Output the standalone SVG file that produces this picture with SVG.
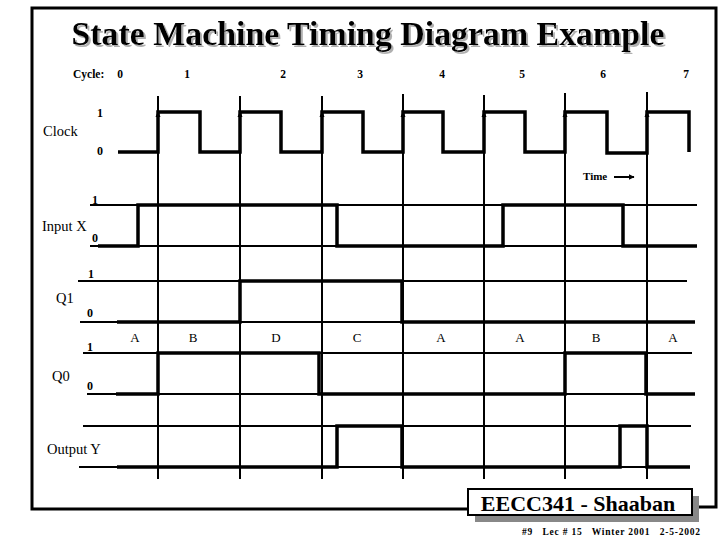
<svg xmlns="http://www.w3.org/2000/svg" width="720" height="540" viewBox="0 0 720 540">
<style>
.t{font-family:"Liberation Serif","Times New Roman",serif;fill:#000}
.b{font-weight:bold}
.lv{font-family:"Liberation Serif","Times New Roman",serif;font-weight:bold;font-size:12px;text-anchor:middle}
.nm{font-family:"Liberation Serif","Times New Roman",serif;font-size:14.5px}
.st{font-family:"Liberation Serif","Times New Roman",serif;font-size:13px;text-anchor:middle}
.thin{stroke:#000;stroke-width:2;fill:none}
.thick{stroke:#000;stroke-width:3.5;fill:none;stroke-linejoin:miter}
</style>
<defs>
<marker id="ah" viewBox="0 0 10 10" refX="9" refY="5" markerWidth="6" markerHeight="6" orient="auto" markerUnits="userSpaceOnUse"><path d="M0,0 L10,5 L0,10 z" fill="#000"/></marker>
<path id="up" d="M-2.5,6 L0,0 L2.5,6 z" fill="#000"/>
<filter id="shadow" x="-5%" y="-20%" width="110%" height="150%">
<feOffset in="SourceAlpha" dx="2" dy="2" result="off"/>
<feFlood flood-color="#b0b0b0"/>
<feComposite in2="off" operator="in" result="sh"/>
<feMerge><feMergeNode in="sh"/><feMergeNode in="SourceGraphic"/></feMerge>
</filter>
</defs>
<rect width="720" height="540" fill="#fff"/>
<g id="frame">
<path d="M468,509 H32 V8 H716 V507 H698" fill="none" stroke="#000" stroke-width="3"/>
</g>
<g id="title">
<text x="368" y="45" class="t b" font-size="33" text-anchor="middle" textLength="593" lengthAdjust="spacingAndGlyphs" filter="url(#shadow)">State Machine Timing Diagram Example</text>
</g>
<g id="cycles" class="t b" font-size="11.5">
<text x="73" y="78">Cycle:</text>
<text x="120" y="78" text-anchor="middle">0</text>
<text x="187" y="78" text-anchor="middle">1</text>
<text x="283" y="78" text-anchor="middle">2</text>
<text x="360" y="78" text-anchor="middle">3</text>
<text x="442" y="78" text-anchor="middle">4</text>
<text x="522" y="78" text-anchor="middle">5</text>
<text x="603" y="78" text-anchor="middle">6</text>
<text x="686" y="78" text-anchor="middle">7</text>
</g>
<g id="grid">
<path class="thin" d="M158,96 V479 M240,96 V479 M322,96 V479 M403,94 V479 M484,95 V479 M565,93 V479 M647,92 V479"/>
</g>
<g id="clock">
<text class="nm" x="43" y="136">Clock</text>
<text class="lv" x="100" y="117">1</text>
<text class="lv" x="100" y="155">0</text>
<path class="thick" d="M118,152 H158 V112 H200 V152 H240 V112 H281 V152 H322 V112 H363 V152 H403 V112 H443 V152 H484 V112 H525 V152 H565 V112 H607 V153 H647 V112 H689 V152"/>
<use href="#up" x="158" y="111"/>
<use href="#up" x="240" y="111"/>
<use href="#up" x="322" y="111"/>
<use href="#up" x="403" y="111"/>
<use href="#up" x="484" y="111"/>
<use href="#up" x="565" y="111"/>
<use href="#up" x="647" y="111"/>
</g>
<g id="time">
<text class="t b" font-size="11" x="583" y="180">Time</text>
<line x1="614" y1="177" x2="634" y2="177" stroke="#000" stroke-width="2" marker-end="url(#ah)"/>
</g>
<g id="inputX">
<text class="nm" x="42" y="231">Input X</text>
<text class="lv" x="95" y="204">1</text>
<text class="lv" x="95" y="242">0</text>
<path class="thin" d="M90,205 H697 M90,246 H697"/>
<path class="thick" d="M98,246 H138 V205 H337 V246 H503 V205 H623 V246 H697"/>
</g>
<g id="Q1">
<text class="nm" x="56" y="303">Q1</text>
<text class="lv" x="91" y="278">1</text>
<text class="lv" x="90" y="317">0</text>
<path class="thin" d="M78,281 H687 M80,322 H695"/>
<path class="thick" d="M117,322 H240 V281 H402 V322 H695"/>
</g>
<g id="states" class="st">
<text x="135" y="342">A</text>
<text x="193" y="342">B</text>
<text x="276" y="342">D</text>
<text x="357" y="342">C</text>
<text x="441" y="342">A</text>
<text x="520" y="342">A</text>
<text x="596" y="342">B</text>
<text x="673" y="342">A</text>
</g>
<g id="Q0">
<text class="nm" x="52" y="381">Q0</text>
<text class="lv" x="90" y="351">1</text>
<text class="lv" x="90" y="390">0</text>
<path class="thin" d="M83,353 H692 M87,394 H695"/>
<path class="thick" d="M116,394 H158 V353 H319 V394 H565 V353 H646 V394 H695"/>
</g>
<g id="outputY">
<text class="nm" x="47" y="454">Output Y</text>
<path class="thin" d="M83,426 H691 M79,467 H690"/>
<path class="thick" d="M117,467 H337 V426 H402 V467 H620 V426 H647 V467 H690"/>
</g>
<g id="footer">
<rect x="475" y="496" width="224" height="26" fill="#888"/>
<rect x="468" y="489" width="224" height="26" fill="#fff" stroke="#000" stroke-width="2"/>
<text class="t b" x="578" y="511" font-size="22" text-anchor="middle">EECC341 - Shaaban</text>
<text class="t b" x="522" y="535" font-size="9.5" xml:space="preserve" textLength="178" lengthAdjust="spacing">#9   Lec # 15   Winter 2001   2-5-2002</text>
</g>
</svg>
